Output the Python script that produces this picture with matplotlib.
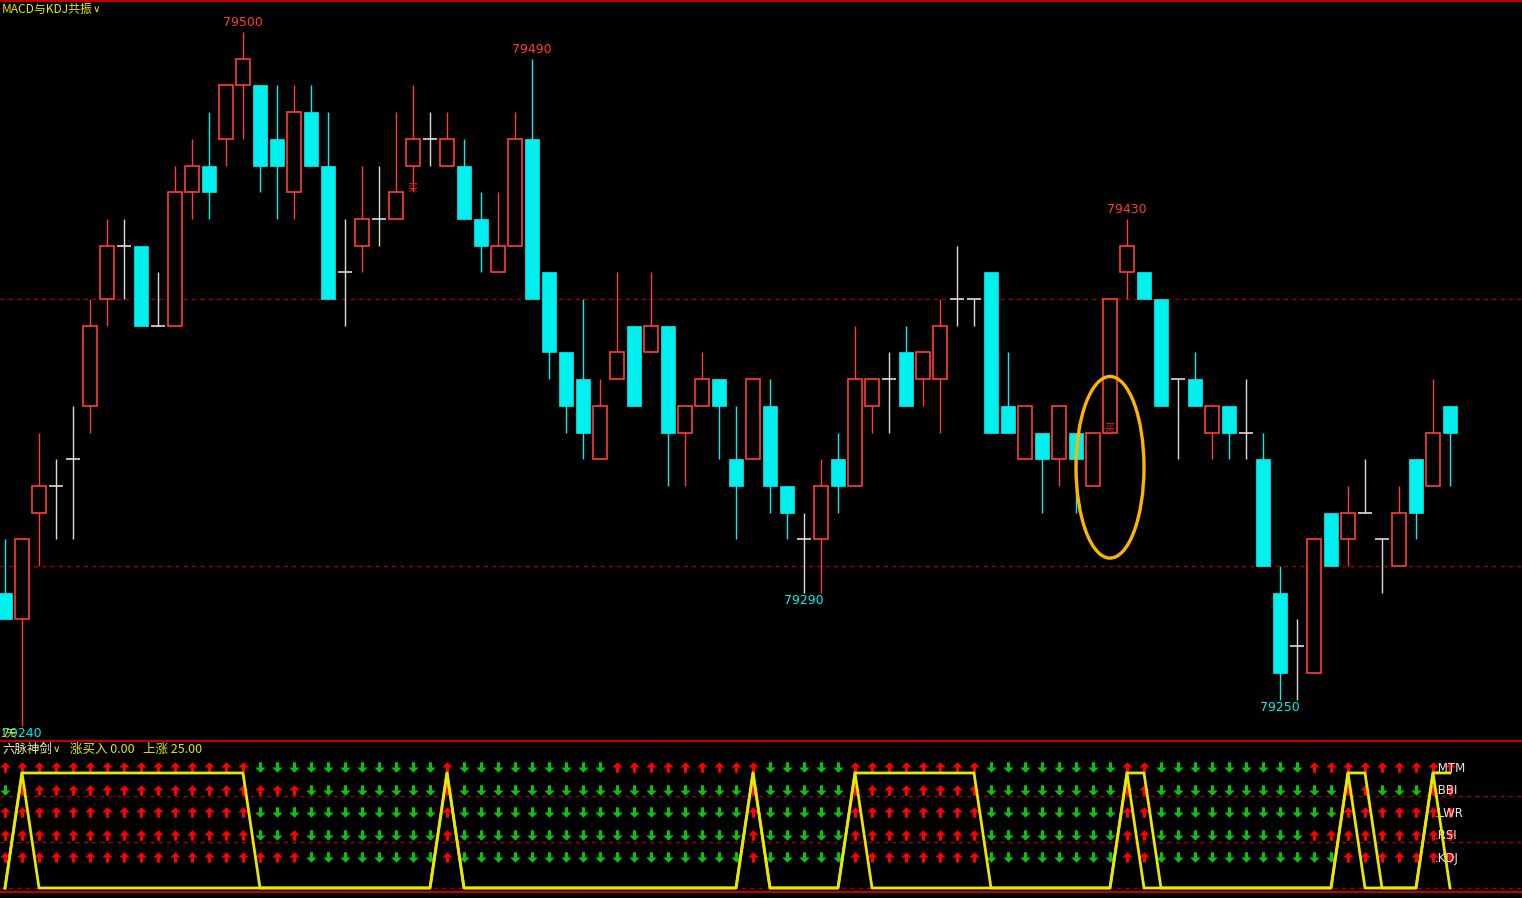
import matplotlib
matplotlib.use("Agg")
import matplotlib.pyplot as plt
from matplotlib.path import Path
from matplotlib.patches import Ellipse

plt.rcParams['font.family'] = ['Noto Sans CJK SC', 'DejaVu Sans']

# --- K线数据 ---
opens = [79290, 79280, 79320, 79330, 79340, 79360, 79400, 79420, 79420, 79390,
         79390, 79440, 79450, 79460, 79480, 79480, 79460, 79440, 79470, 79450,
         79410, 79420, 79430, 79430, 79450, 79460, 79450, 79450, 79430, 79410,
         79420, 79460, 79410, 79380, 79370, 79340, 79370, 79390, 79380, 79390,
         79350, 79360, 79370, 79340, 79340, 79360, 79330, 79310, 79310, 79340,
         79330, 79360, 79370, 79380, 79370, 79370, 79400, 79400, 79410, 79360,
         79340, 79350, 79340, 79350, 79330, 79350, 79410, 79410, 79400, 79370,
         79370, 79350, 79360, 79350, 79340, 79290, 79270, 79260, 79320, 79310,
         79320, 79310, 79300, 79340, 79330, 79360]
highs = [79310, 79310, 79350, 79340, 79360, 79400, 79430, 79430, 79420, 79410,
         79450, 79460, 79470, 79480, 79500, 79480, 79480, 79480, 79480, 79470,
         79430, 79450, 79450, 79470, 79480, 79470, 79470, 79460, 79440, 79440,
         79470, 79490, 79410, 79380, 79400, 79370, 79410, 79390, 79410, 79390,
         79360, 79380, 79370, 79360, 79370, 79370, 79330, 79320, 79340, 79350,
         79390, 79370, 79380, 79390, 79380, 79400, 79420, 79400, 79410, 79380,
         79360, 79350, 79360, 79350, 79350, 79400, 79430, 79410, 79400, 79370,
         79380, 79360, 79360, 79370, 79350, 79300, 79280, 79310, 79320, 79330,
         79340, 79310, 79330, 79340, 79370, 79360]
lows = [79280, 79240, 79300, 79310, 79310, 79350, 79390, 79400, 79390, 79390,
        79390, 79430, 79430, 79450, 79460, 79440, 79430, 79430, 79450, 79400,
        79390, 79410, 79420, 79430, 79440, 79450, 79450, 79430, 79410, 79410,
        79420, 79400, 79370, 79350, 79340, 79340, 79370, 79360, 79380, 79330,
        79330, 79360, 79340, 79310, 79340, 79320, 79310, 79290, 79290, 79320,
        79330, 79350, 79350, 79360, 79360, 79350, 79390, 79390, 79350, 79350,
        79340, 79320, 79330, 79320, 79330, 79350, 79400, 79400, 79360, 79340,
        79360, 79340, 79340, 79340, 79300, 79250, 79250, 79260, 79300, 79300,
        79320, 79290, 79300, 79310, 79330, 79330]
closes = [79280, 79310, 79330, 79330, 79340, 79390, 79420, 79420, 79390, 79390,
          79440, 79450, 79440, 79480, 79490, 79450, 79450, 79470, 79450, 79400,
          79410, 79430, 79430, 79440, 79460, 79460, 79460, 79430, 79420, 79420,
          79460, 79400, 79380, 79360, 79350, 79360, 79380, 79360, 79390, 79350,
          79360, 79370, 79360, 79330, 79370, 79330, 79320, 79310, 79330, 79330,
          79370, 79370, 79370, 79360, 79380, 79390, 79400, 79400, 79350, 79350,
          79360, 79340, 79360, 79340, 79350, 79400, 79420, 79400, 79360, 79370,
          79360, 79360, 79350, 79350, 79300, 79260, 79270, 79310, 79300, 79320,
          79320, 79310, 79320, 79320, 79350, 79350]

high_marks = [14, 31, 66]
low_marks = [1, 47, 75]
buy_marks = [24, 65]

# --- 六脉神剑: 1=红色上箭头, 0=绿色下箭头 ---
row_names = ["MTM", "BBI", "LWR", "RSI", "KDJ"]
mtm = [1]*15 + [0]*11 + [1] + [0]*9 + [1]*9 + [0]*5 + [1]*8 + [0]*8 + [1]*2 + [0]*9 + [1]*9
bbi = [0] + [1]*17 + [0]*8 + [1] + [0]*17 + [1] + [0]*5 + [1]*8 + [0]*8 + [1]*2 + [0]*11 + [1]*2 + [0]*3 + [1]*2
lwr = [1]*15 + [0]*11 + [1] + [0]*17 + [1] + [0]*5 + [1]*8 + [0]*8 + [1]*2 + [0]*11 + [1]*7
rsi = [1]*15 + [0]*2 + [1] + [0]*8 + [1] + [0]*17 + [1] + [0]*5 + [1]*8 + [0]*8 + [1]*2 + [0]*9 + [1]*9
kdj = [1]*18 + [0]*8 + [1] + [0]*17 + [1] + [0]*5 + [1]*8 + [0]*8 + [1]*2 + [0]*11 + [1]*7
rows = [mtm, bbi, lwr, rsi, kdj]

# 黄线: 上涨(平台) 和 涨买入(脉冲)
trend = [0] + [1]*14 + [0]*11 + [1] + [0]*17 + [1] + [0]*5 + [1]*8 + [0]*8 + [1]*2 + [0]*11 + [1]*2 + [0]*3 + [1]*2
signal = [0, 1] + [0]*24 + [1] + [0]*17 + [1] + [0]*5 + [1] + [0]*15 + [1] + [0]*12 + [1] + [0]*4 + [1, 0]

RED = "#FF3C3C"
CYAN = "#00F0F0"
WHITE = "#DCDCDC"
GRID = "#A00000"
YELLOW = "#E8E800"

W, H = 1522, 898
fig = plt.figure(figsize=(W / 100, H / 100), dpi=100, facecolor="black")

# --- 主图 ---
ax = fig.add_axes([0, 157 / H, 1, 740 / H], facecolor="black")
n = len(opens)
xs = list(range(n))
bw = 0.86

for i in xs:
    o, h, l, c = opens[i], highs[i], lows[i], closes[i]
    if c > o:
        col = RED
    elif c < o:
        col = CYAN
    else:
        col = WHITE
    ax.vlines(i, l, h, color=col, linewidth=1.0, zorder=2)
    if c > o:
        ax.bar(i, c - o, bottom=o, width=bw, facecolor="black", edgecolor=col, linewidth=1.2, zorder=3)
    elif c < o:
        ax.bar(i, o - c, bottom=c, width=bw, facecolor=col, edgecolor=col, linewidth=0.5, zorder=3)
    else:
        ax.hlines(o, i - bw / 2, i + bw / 2, color=col, linewidth=1.2, zorder=3)

for lv in (79400, 79300):
    ax.axhline(lv, color=GRID, linewidth=1, dashes=(3, 3), zorder=1)

for i in high_marks:
    ax.annotate(str(highs[i]), xy=(i, highs[i]), xytext=(0, 6.5), textcoords="offset points",
                ha="center", va="center", color=RED, fontsize=9, family="DejaVu Sans")
for i in low_marks:
    ax.annotate(str(lows[i]), xy=(i, lows[i]), xytext=(0, -5.5), textcoords="offset points",
                ha="center", va="center", color=CYAN, fontsize=9, family="DejaVu Sans")

ax.text(buy_marks[0] - 0.05, 79442, "买", color="#FF2020", fontsize=7, ha="center", va="center", zorder=4)
ax.text(buy_marks[1] - 0.05, 79352, "买", color="#FF2020", fontsize=7, ha="center", va="center", zorder=4)

ax.add_patch(Ellipse((65, 79337), 4.0, 68, fill=False, edgecolor="#FFB400", linewidth=2.4, zorder=5))

ax.set_xlim(-5 / 17, (W - 5) / 17)
ax.set_ylim(79234.5, 79511.6)
ax.set_xticks([])
ax.set_yticks([])
for s in ("left", "right", "bottom"):
    ax.spines[s].set_visible(False)
ax.spines["top"].set_color("#C00000")
ax.spines["top"].set_linewidth(1.5)

fig.text(2 / W, 1 - 9 / H, "MACD与KDJ共振", color=YELLOW, fontsize=8.6, ha="left", va="center")
fig.text(93 / W, 1 - 9 / H, "∨", color=YELLOW, fontsize=7.5, ha="left", va="center", family="DejaVu Sans")
fig.text(0 / W, 1 - 733 / H, "1天", color=YELLOW, fontsize=7.5, ha="left", va="center")

# --- 副图 六脉神剑 ---
ax2 = fig.add_axes([0, 6 / H, 1, 151 / H], facecolor="black")
ax2.set_xlim(ax.get_xlim())
ax2.set_ylim(5.53, -1.15)

up = Path([(-0.5, 0.0), (0, 0.5), (0.5, 0.0), (0.15, 0.0), (0.15, -0.5), (-0.15, -0.5), (-0.15, 0.0), (-0.5, 0.0)])
down = Path([(x, -y) for x, y in up.vertices])

for r, vals in enumerate(rows):
    ux = [i for i in xs if vals[i] == 1]
    dx = [i for i in xs if vals[i] == 0]
    ax2.plot(ux, [r] * len(ux), linestyle="none", marker=up, markersize=7.5, color="#FF0000",
             markeredgewidth=0)
    ax2.plot(dx, [r] * len(dx), linestyle="none", marker=down, markersize=7.5, color="#10C010",
             markeredgewidth=0)
    ax2.text(84.1, r + 0.05, "." + row_names[r], color="#E8E8E8", fontsize=8.5, ha="left", va="center",
             family="DejaVu Sans", zorder=5)

ax3 = ax2.twinx()
ax3.set_ylim(-0.035, 1.278)
for lv in (0, 0.4, 0.8):
    ax3.axhline(lv, color=GRID, linewidth=1, dashes=(3, 3), zorder=1)
ax3.plot(xs, trend, color=YELLOW, linewidth=2, zorder=4)
ax3.plot(xs, signal, color=YELLOW, linewidth=2, zorder=4)

for a in (ax2, ax3):
    a.set_xticks([])
    a.set_yticks([])
    for s in ("left", "right"):
        a.spines[s].set_visible(False)
    a.spines["top"].set_color("#C00000")
    a.spines["bottom"].set_color("#C00000")
    a.spines["top"].set_linewidth(1.5)
    a.spines["bottom"].set_linewidth(1.5)

fig.text(2 / W, 1 - 749 / H, "六脉神剑", color="#F0F0A0", fontsize=9, ha="left", va="center")
fig.text(53 / W, 1 - 749 / H, "∨", color=YELLOW, fontsize=7.5, ha="left", va="center", family="DejaVu Sans")
fig.text(70 / W, 1 - 749 / H, "涨买入 0.00", color=YELLOW, fontsize=9, ha="left", va="center")
fig.text(143 / W, 1 - 749 / H, "上涨 25.00", color=YELLOW, fontsize=9, ha="left", va="center")

fig.savefig("out.png", dpi=100, facecolor="black")
